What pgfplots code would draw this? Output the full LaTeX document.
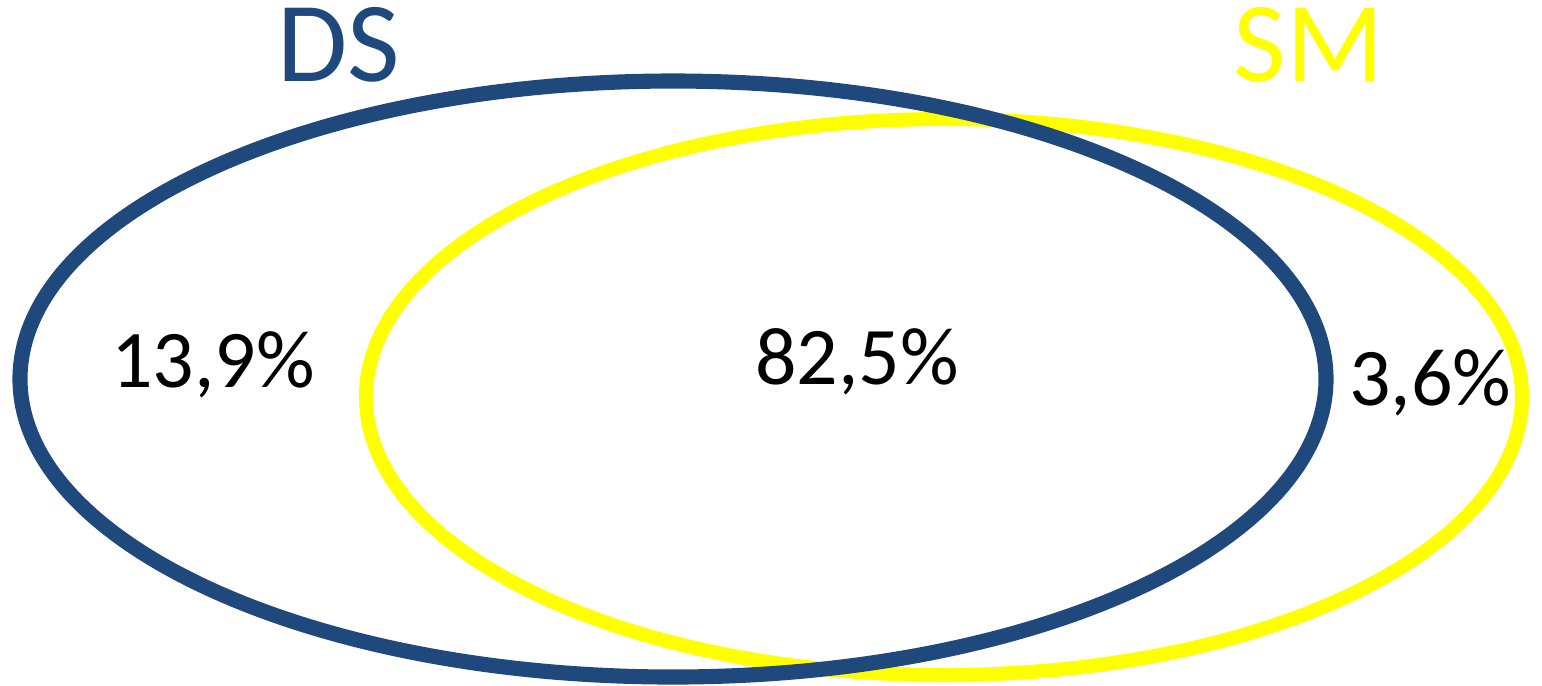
\documentclass[border=0pt]{standalone}
\usepackage{pgfplots}
\pgfplotsset{compat=1.18}
\usepackage{fontspec}
\setmainfont{Carlito}
\definecolor{dsblue}{RGB}{31,73,125}
\definecolor{smyellow}{RGB}{255,255,0}
\begin{document}
\begin{tikzpicture}
\begin{axis}[
  scale only axis, width=15.42cm, height=6.85cm,
  xmin=0, xmax=1542, ymin=0, ymax=685,
  axis lines=none, clip=false,
]
\path (axis cs:0,0) rectangle (axis cs:1542,685);
% yellow (SM) ellipse: centre, radii in pixels
\draw[smyellow, line width=4pt] (axis cs:944,288) ellipse [x radius=578, y radius=278];
% blue (DS) ellipse
\draw[dsblue, line width=4.3pt] (axis cs:673,306) ellipse [x radius=653, y radius=298];
\node[anchor=base, text=dsblue, font=\fontsize{32.5}{36}\selectfont, inner sep=0pt] at (axis cs:339,604) {DS};
\node[anchor=base, text=smyellow, font=\fontsize{32.5}{36}\selectfont, inner sep=0pt] at (axis cs:1309,604) {SM};
\node[anchor=base, font=\fontsize{23.3}{28}\selectfont, inner sep=0pt] at (axis cs:213,298) {13,9\%};
\node[anchor=base, font=\fontsize{23.3}{28}\selectfont, inner sep=0pt] at (axis cs:857,301) {82,5\%};
\node[anchor=base, font=\fontsize{23.3}{28}\selectfont, inner sep=0pt] at (axis cs:1430,280) {3,6\%};
\end{axis}
\end{tikzpicture}
\end{document}
